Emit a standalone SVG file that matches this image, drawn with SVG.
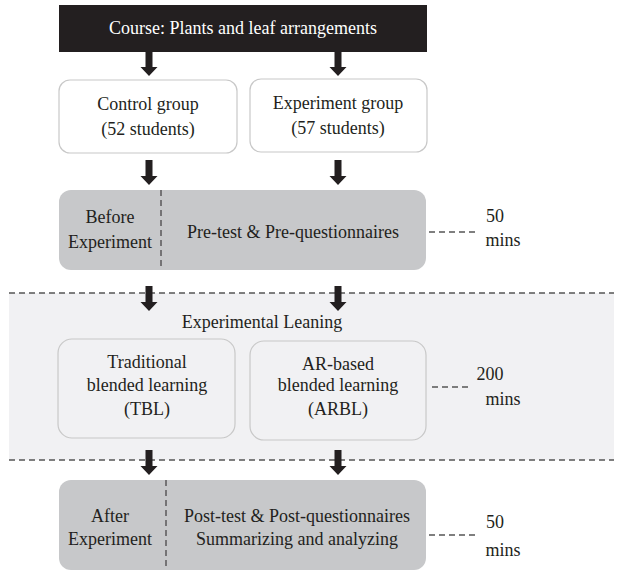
<svg xmlns="http://www.w3.org/2000/svg" width="620" height="571" viewBox="0 0 620 571">
  <style>
    text { fill: #231f20; text-anchor: middle; }
    .title { fill: #ffffff; }
    .white-box { fill: #ffffff; stroke: #c8c8c8; stroke-width: 1.2; }
    .light-box { fill: #f1f1f3; stroke: #c8c8c8; stroke-width: 1.2; }
    .gray-box { fill: #c7c8ca; }
    .divider { stroke: #231f20; stroke-width: 1; stroke-dasharray: 6 4; fill: none; }
    .dash { stroke: #555555; stroke-width: 1.3; stroke-dasharray: 6 4; fill: none; }
    .arrow { fill: #231f20; }
  </style>
  <defs>
    <!-- block arrow, origin at shaft top, pointing down -->
    <path id="blockArrow" d="M-3.5,0 H3.5 V16 H8.5 L0,25 L-8.5,16 H-3.5 Z"/>
  </defs>

  <rect width="620" height="571" fill="#ffffff"/>

  <!-- experimental phase band -->
  <g id="phase-band">
    <rect x="9" y="293" width="605" height="167" fill="#f1f1f3"/>
    <line class="dash" x1="9" y1="293" x2="614" y2="293"/>
    <line class="dash" x1="9" y1="460" x2="614" y2="460"/>
  </g>

  <g id="course">
    <rect x="59" y="5" width="368" height="47" fill="#231f20"/>
    <text class="title" x="243" y="34" font-family="Liberation Serif" font-size="18">Course: Plants and leaf arrangements</text>
  </g>

  <g id="control-group">
    <rect class="white-box" x="59" y="80" width="178" height="73" rx="11"/>
    <text x="148" y="110" font-family="Liberation Serif" font-size="18">Control group</text>
    <text x="148" y="135" font-family="Liberation Serif" font-size="18">(52 students)</text>
  </g>

  <g id="experiment-group">
    <rect class="white-box" x="250" y="79" width="177" height="73" rx="11"/>
    <text x="338" y="109" font-family="Liberation Serif" font-size="18">Experiment group</text>
    <text x="338" y="134" font-family="Liberation Serif" font-size="18">(57 students)</text>
  </g>

  <g id="before-experiment">
    <rect class="gray-box" x="59" y="190" width="367" height="80" rx="12"/>
    <line class="divider" x1="161" y1="190" x2="161" y2="270"/>
    <text x="110" y="223" font-family="Liberation Serif" font-size="18">Before</text>
    <text x="110" y="248" font-family="Liberation Serif" font-size="18">Experiment</text>
    <text x="293" y="238" font-family="Liberation Serif" font-size="18">Pre-test &amp; Pre-questionnaires</text>
  </g>

  <g id="experimental-leaning">
    <text x="262" y="328" font-family="Liberation Serif" font-size="18">Experimental Leaning</text>
  </g>

  <g id="tbl">
    <rect class="light-box" x="58" y="339" width="177" height="99" rx="14"/>
    <text x="147" y="368" font-family="Liberation Serif" font-size="18">Traditional</text>
    <text x="147" y="391" font-family="Liberation Serif" font-size="18">blended learning</text>
    <text x="147" y="415" font-family="Liberation Serif" font-size="18">(TBL)</text>
  </g>

  <g id="arbl">
    <rect class="light-box" x="250" y="341" width="176" height="99" rx="14"/>
    <text x="338" y="370" font-family="Liberation Serif" font-size="18">AR-based</text>
    <text x="338" y="391" font-family="Liberation Serif" font-size="18">blended learning</text>
    <text x="338" y="415" font-family="Liberation Serif" font-size="18">(ARBL)</text>
  </g>

  <g id="after-experiment">
    <rect class="gray-box" x="59" y="480" width="367" height="90" rx="12"/>
    <line class="divider" x1="166" y1="480" x2="166" y2="570"/>
    <text x="110" y="522" font-family="Liberation Serif" font-size="18">After</text>
    <text x="110" y="545" font-family="Liberation Serif" font-size="18">Experiment</text>
    <text x="297" y="522" font-family="Liberation Serif" font-size="18">Post-test &amp; Post-questionnaires</text>
    <text x="297" y="545" font-family="Liberation Serif" font-size="18">Summarizing and analyzing</text>
  </g>

  <g id="durations">
    <line class="dash" x1="429" y1="232" x2="478" y2="232"/>
    <text x="495" y="222" font-family="Liberation Serif" font-size="18">50</text>
    <text x="503" y="246" font-family="Liberation Serif" font-size="18">mins</text>
    <line class="dash" x1="432" y1="387" x2="472" y2="387"/>
    <text x="490" y="380" font-family="Liberation Serif" font-size="18">200</text>
    <text x="503" y="405" font-family="Liberation Serif" font-size="18">mins</text>
    <line class="dash" x1="429" y1="535" x2="478" y2="535"/>
    <text x="495" y="528" font-family="Liberation Serif" font-size="18">50</text>
    <text x="503" y="556" font-family="Liberation Serif" font-size="18">mins</text>
  </g>

  <g id="connectors" class="arrow">
    <use href="#blockArrow" x="149" y="51"/>
    <use href="#blockArrow" x="338" y="51"/>
    <use href="#blockArrow" x="149" y="160"/>
    <use href="#blockArrow" x="338" y="160"/>
    <use href="#blockArrow" x="149" y="286"/>
    <use href="#blockArrow" x="338" y="286"/>
    <use href="#blockArrow" x="149" y="450"/>
    <use href="#blockArrow" x="338" y="450"/>
  </g>
</svg>
